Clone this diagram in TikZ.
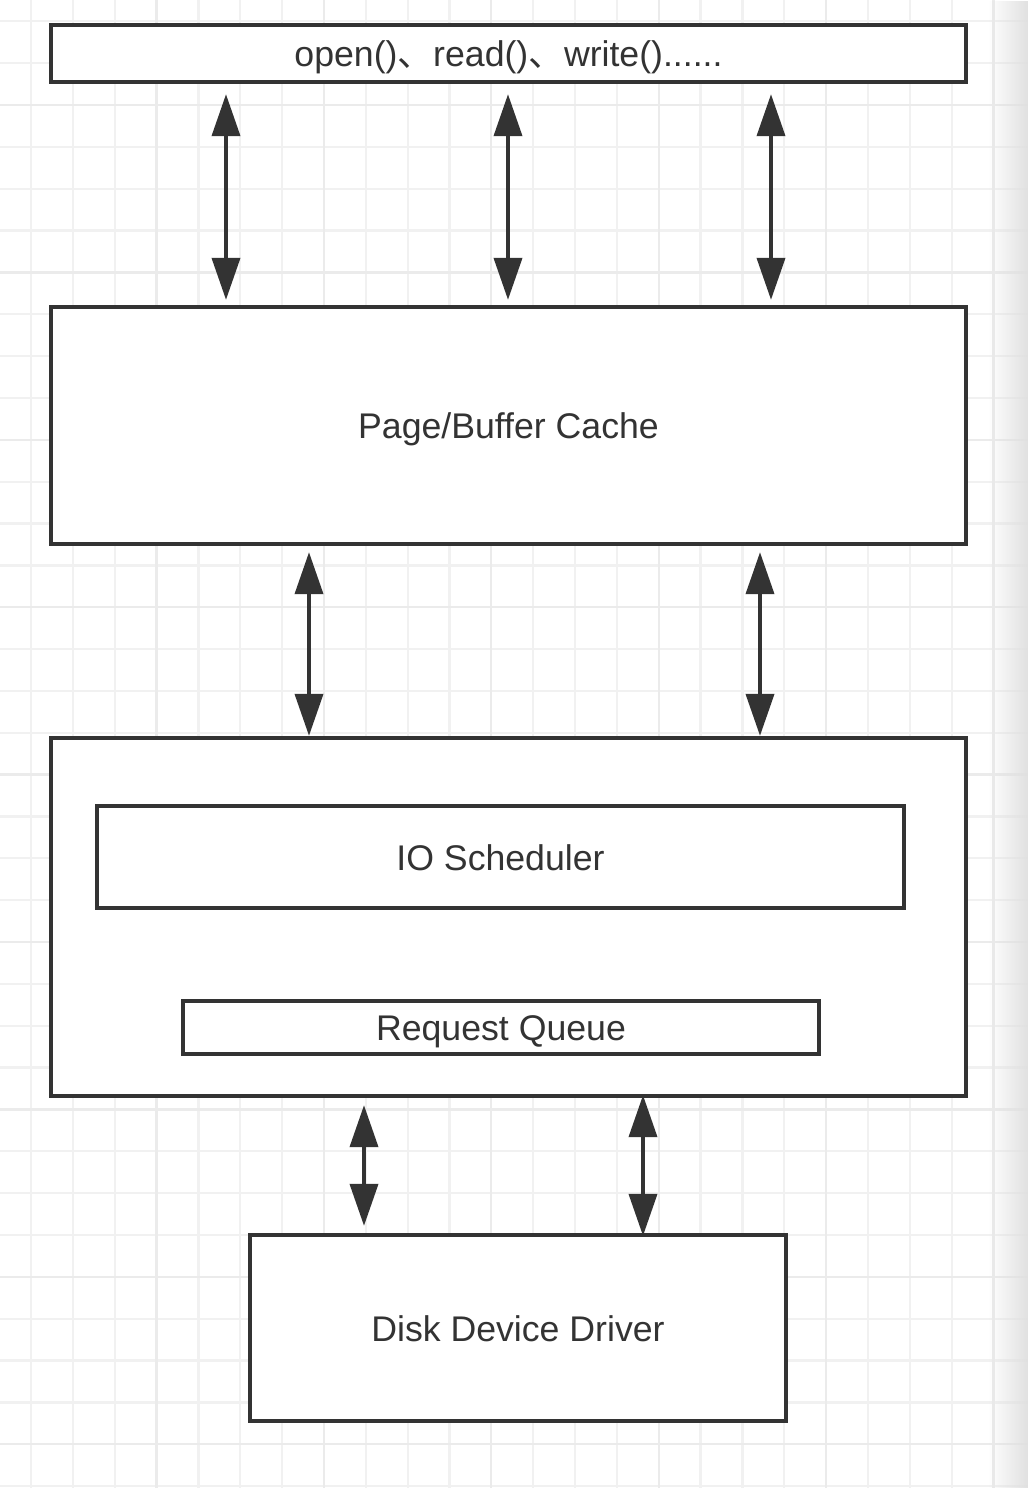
\documentclass[tikz,border=0pt]{standalone}
\usepackage{fontspec}
\setmainfont{Liberation Sans}
\newfontfamily\cjkfont{Noto Sans CJK SC}
\usetikzlibrary{arrows.meta,fadings}
\definecolor{inkgray}{HTML}{333333}
\definecolor{gridminor}{HTML}{F1F1F1}
\definecolor{gridmajor}{HTML}{EBEBEB}
\tikzset{
  layerbox/.style={draw=inkgray, line width=2.5pt, fill=white, text=inkgray,
    font=\fontsize{20.3}{24}\selectfont, inner sep=0pt,
    text height=15.1pt, text depth=0pt},
  biarrow/.style={draw=inkgray, line width=2.2pt,
    {Triangle[length=8.4mm,width=5.6mm]}-{Triangle[length=8.4mm,width=5.6mm]}},
}
\begin{document}
\begin{tikzpicture}[x=0.02cm,y=-0.02cm]
		\useasboundingbox (0,0) rectangle (1028,1488);
		% squared paper background
		\foreach \i in {0,...,23}
			\draw[line width=1.3pt, color=gridminor] ({31+41.85*\i},0) -- ({31+41.85*\i},1488);
		\foreach \j in {0,...,35}
			\draw[line width=1.3pt, color=gridminor] (0,{21.3+41.85*\j}) -- (1028,{21.3+41.85*\j});
		\foreach \i in {3,7,...,23}
			\draw[line width=1.3pt, color=gridmajor] ({31+41.85*\i},0) -- ({31+41.85*\i},1488);
		\foreach \j in {2,6,...,34}
			\draw[line width=1.3pt, color=gridmajor] (0,{21.3+41.85*\j}) -- (1028,{21.3+41.85*\j});
		\fill[black!12, path fading=west] (988,0) rectangle (1028,1488);
		% layers
		\node[layerbox, minimum width=18.3cm, minimum height=1.14cm] (api) at (508.5,53.5)
			{open(){\cjkfont 、}read(){\cjkfont 、}write()......};
		\node[layerbox, minimum width=18.3cm, minimum height=4.74cm] (cache) at (508.5,425.5) {Page/Buffer Cache};
		\node[layerbox, minimum width=18.3cm, minimum height=7.16cm] (block) at (508.5,917) {};
		\node[layerbox, minimum width=16.14cm, minimum height=2.04cm] (sched) at (500.5,857) {IO Scheduler};
		\node[layerbox, minimum width=12.72cm, minimum height=1.06cm] (queue) at (501,1027.5) {Request Queue};
		\node[layerbox, minimum width=10.72cm, minimum height=3.72cm] (disk) at (518,1328) {Disk Device Driver};
		% arrow columns
		\foreach \x [count=\i] in {226,508,771} \coordinate (ta\i) at (\x,0);
		\foreach \x [count=\i] in {309,760} \coordinate (tb\i) at (\x,0);
		\foreach \x [count=\i] in {364,643} \coordinate (tc\i) at (\x,0);
		% api <-> cache
		\foreach \i in {1,2,3}
			\draw[biarrow, shorten <=0.2cm, shorten >=0.1cm] (api.south -| ta\i) -- (cache.north -| ta\i);
		% cache <-> block layer
		\foreach \i in {1,2}
			\draw[biarrow, shorten <=0.12cm] (cache.south -| tb\i) -- (block.north -| tb\i);
		% block layer <-> driver
		\draw[biarrow, shorten <=0.14cm, shorten >=0.14cm] (block.south -| tc1) -- (disk.north -| tc1);
		\draw[biarrow, shorten <=-0.06cm, shorten >=-0.06cm] (block.south -| tc2) -- (disk.north -| tc2);
	\end{tikzpicture}
\end{document}
